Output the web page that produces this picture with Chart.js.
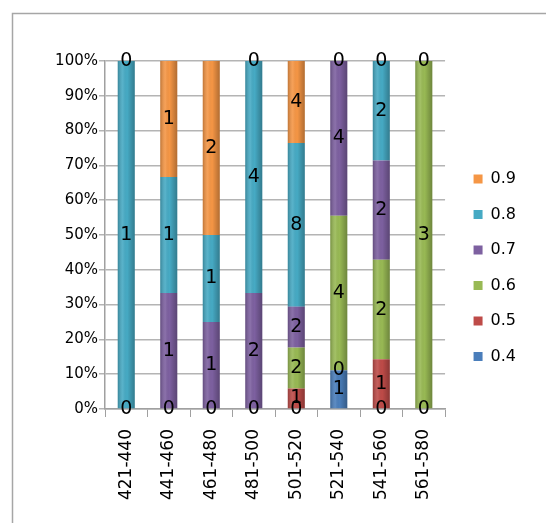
<!DOCTYPE html>
<html>
<head>
<meta charset="utf-8">
<script src="https://cdn.jsdelivr.net/npm/chart.js@4/dist/chart.umd.min.js"></script>
<style>
  html, body { margin: 0; padding: 0; background: #fff; }
  #wrap { width: 546px; height: 523px; position: relative; }
</style>
</head>
<body>
<div id="wrap"><canvas id="chart"></canvas></div>
<script>
// Score bands on the x axis
const categories = ['421-440', '441-460', '461-480', '481-500', '501-520', '521-540', '541-560', '561-580'];

// Counts per band for each series (null = no entry)
const series04 = [0, 0, 0, 0, 0, 1, 0, 0];
const series05 = [null, null, null, null, 1, 0, 1, null];
const series06 = [null, null, null, null, 2, 4, 2, 3];
const series07 = [null, 1, 1, 2, 2, 4, 2, null];
const series08 = [1, 1, 1, 4, 8, null, 2, null];
const series09 = [0, 1, 2, 0, 4, 0, 0, 0];

const seriesNames = ['0.4', '0.5', '0.6', '0.7', '0.8', '0.9'];
const seriesColors = ['#4a7ebb', '#be4b48', '#98b954', '#7d60a0', '#46aac4', '#f59645'];

// Percent axis ticks
const yTicks = [0, 10, 20, 30, 40, 50, 60, 70, 80, 90, 100];

const allSeries = [series04, series05, series06, series07, series08, series09];

// Column totals for the 100% stack
const totals = categories.map((_, i) =>
  allSeries.reduce((s, arr) => s + (arr[i] == null ? 0 : arr[i]), 0));

const datasets = allSeries.map((arr, k) => ({
  label: seriesNames[k],
  counts: arr,
  data: arr.map((v, i) => v == null ? null : v / totals[i] * 100),
  backgroundColor: seriesColors[k],
  borderWidth: 0,
  categoryPercentage: 1.0,
  barPercentage: 0.4,
  stack: 'all',
  yAxisID: 'y'
}));

// Frame around the whole chart
const framePlugin = {
  id: 'frame',
  beforeDraw(chart) {
    const c = chart.ctx;
    c.save();
    c.fillStyle = '#ffffff';
    c.fillRect(0, 0, chart.width, chart.height);
    c.strokeStyle = '#a6a6a6';
    c.lineWidth = 1.5;
    c.strokeRect(12.5, 13.5, 700, 700);
    c.restore();
  }
};

// Rounded cylinder shading on each bar segment
const shadePlugin = {
  id: 'shade',
  afterDatasetDraw(chart, args) {
    const meta = args.meta;
    const c = chart.ctx;
    c.save();
    meta.data.forEach((el, i) => {
      if (meta._dataset.data[i] == null) return;
      const w = el.width;
      const x0 = el.x - w / 2;
      const top = Math.min(el.y, el.base);
      const h = Math.abs(el.base - el.y);
      if (h <= 0) return;
      const g = c.createLinearGradient(x0, 0, x0 + w, 0);
      g.addColorStop(0, 'rgba(0,0,0,0.22)');
      g.addColorStop(0.3, 'rgba(255,255,255,0.10)');
      g.addColorStop(0.55, 'rgba(0,0,0,0.0)');
      g.addColorStop(1, 'rgba(0,0,0,0.28)');
      c.fillStyle = g;
      c.fillRect(x0, top, w, h);
    });
    c.restore();
  }
};

// Count labels at the middle of each segment
const countLabelPlugin = {
  id: 'countLabels',
  afterDatasetsDraw(chart) {
    const c = chart.ctx;
    c.save();
    c.font = '19px "DejaVu Sans"';
    c.fillStyle = '#000';
    c.textAlign = 'center';
    c.textBaseline = 'middle';
    chart.data.datasets.forEach((ds, k) => {
      const meta = chart.getDatasetMeta(k);
      meta.data.forEach((el, i) => {
        const v = ds.counts[i];
        if (v == null) return;
        c.fillText(String(v), el.x, (el.y + el.base) / 2);
      });
    });
    c.restore();
  }
};

new Chart(document.getElementById('chart'), {
  type: 'bar',
  data: { labels: categories, datasets },
  plugins: [framePlugin, shadePlugin, countLabelPlugin],
  options: {
    responsive: true,
    maintainAspectRatio: false,
    animation: false,
    layout: { padding: { left: 0, top: 61, right: 20, bottom: 0 } },
    plugins: {
      tooltip: { enabled: false },
      legend: {
        position: 'right',
        align: 'start',
        reverse: true,
        title: { display: true, text: '', font: { size: 10 }, padding: { top: 78.5, bottom: 0 } },
        labels: {
          boxWidth: 9,
          boxHeight: 9,
          padding: 19.5,
          color: '#000',
          font: { family: 'DejaVu Sans', size: 16 }
        }
      }
    },
    scales: {
      x: {
        stacked: true,
        afterFit(scale) { scale.height = 114; },
        grid: { display: true, drawOnChartArea: false, offset: true, tickLength: 8, color: '#a0a0a0' },
        border: { color: '#a0a0a0', width: 1.5 },
        ticks: {
          minRotation: 90, maxRotation: 90, color: '#000', padding: 12,
          font: { family: 'DejaVu Sans', size: 17 }
        }
      },
      y: {
        stacked: true,
        position: 'left',
        min: 0, max: 100,
        afterFit(scale) { scale.width = 105; },
        afterBuildTicks(scale) { scale.ticks = yTicks.map(v => ({ value: v })); },
        grid: { color: '#b4b4b4', lineWidth: 1.5, tickLength: 6 },
        border: { color: '#a0a0a0', width: 1.5 },
        ticks: {
          color: '#000', padding: 1,
          font: { family: 'DejaVu Sans', size: 15 },
          callback: v => v + '%'
        }
      },
      // empty gap between the plot and the legend
      gap: {
        type: 'linear',
        position: 'right',
        afterFit(scale) { scale.width = 9; },
        grid: { display: false },
        border: { display: false },
        ticks: { display: false }
      }
    }
  }
});
</script>
</body>
</html>
